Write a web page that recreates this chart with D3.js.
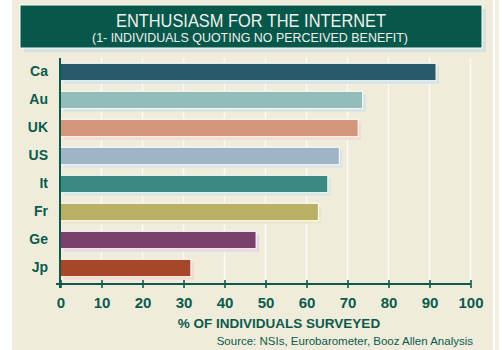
<!DOCTYPE html>
<html><head><meta charset="utf-8">
<script src="https://cdn.jsdelivr.net/npm/d3@7"></script>
<style>
html,body{margin:0;padding:0;background:#fff;}
svg{display:block;}
</style></head>
<body>
<script>
const categories = ["Ca","Au","UK","US","It","Fr","Ge","Jp"];
const values = [91.6, 73.7, 72.6, 68.0, 65.2, 62.9, 47.7, 31.8];
const colors = ["#285a69","#94bdb9","#d3957c","#9db5c5","#3a8a81","#bab063","#7a406e","#a6472a"];
const shadows = ["#d5e3e6","#d5e5e4","#f3dccf","#d8e4ea","#d5e6e4","#ebe8c9","#e5d6e2","#f3d9cf"];
const xTicks = [0,10,20,30,40,50,60,70,80,90,100];
const titleText = "ENTHUSIASM FOR THE INTERNET";
const subtitleText = "(1- INDIVIDUALS QUOTING NO PERCEIVED BENEFIT)";
const xTitle = "% OF INDIVIDUALS SURVEYED";
const sourceText = "Source: NSIs, Eurobarometer, Booz Allen Analysis";

const W = 502, H = 350;
const green = "#0b5a4c";
const svg = d3.select("body").append("svg").attr("width", W).attr("height", H);

// panel
svg.append("rect").attr("x",0).attr("y",0).attr("width",W).attr("height",H).attr("fill","#fff");
svg.append("rect").attr("x",12).attr("y",0).attr("width",481).attr("height",H).attr("fill","#f0ecdb");
svg.append("rect").attr("x",495).attr("y",0).attr("width",4).attr("height",H).attr("fill","#f2efe2");

// title box
svg.append("rect").attr("x",24).attr("y",9).attr("width",462).attr("height",43).attr("fill","#d3e2e1");
svg.append("rect").attr("x",20).attr("y",5).attr("width",462).attr("height",43).attr("fill","#07574a").attr("stroke","#ffffff").attr("stroke-width",1);
svg.append("text").attr("x",251).attr("y",27).attr("text-anchor","middle")
  .attr("font-family","'Liberation Sans Narrow','Arial Narrow','Liberation Sans',sans-serif")
  .attr("font-size",19).attr("fill","#eef2ee").attr("textLength",270).attr("lengthAdjust","spacingAndGlyphs").text(titleText);
svg.append("text").attr("x",250).attr("y",42).attr("text-anchor","middle")
  .attr("font-family","'Liberation Sans Narrow','Arial Narrow','Liberation Sans',sans-serif")
  .attr("font-size",12.5).attr("fill","#eef2ee").attr("textLength",316).attr("lengthAdjust","spacingAndGlyphs").text(subtitleText);

const x = d3.scaleLinear().domain([0,100]).range([60.5,470.5]);
const y = d3.scaleBand().domain(categories).range([58,282]).paddingInner(0.38).paddingOuter(0.19);

// gridlines
svg.append("g").selectAll("line").data(xTicks.slice(1)).join("line")
  .attr("x1",d=>x(d)).attr("x2",d=>x(d)).attr("y1",58).attr("y2",284)
  .attr("stroke","#fbfaf4").attr("stroke-width",1.6);

// bars
const bars = svg.append("g");
categories.forEach((c,i)=>{
  bars.append("rect").attr("x",x(0)+3).attr("y",y(c)+3).attr("width",x(values[i])-x(0)).attr("height",y.bandwidth())
    .attr("fill",shadows[i]);
});
categories.forEach((c,i)=>{
  bars.append("rect").attr("x",x(0)).attr("y",y(c)).attr("width",x(values[i])-x(0)).attr("height",y.bandwidth())
    .attr("fill",colors[i]).attr("stroke","#ffffff").attr("stroke-width",1);
});

// y axis
const yAxis = svg.append("g").attr("transform","translate(60,0)")
  .call(d3.axisLeft(y).tickSize(0).tickPadding(12));
yAxis.select(".domain").remove();
yAxis.selectAll("text").attr("font-family","'Liberation Sans',Arial,sans-serif").attr("font-weight","bold")
  .attr("font-size",14).attr("fill",green);
svg.append("line").attr("x1",60).attr("x2",60).attr("y1",58).attr("y2",288).attr("stroke",green).attr("stroke-width",2);

// x axis
const xAxis = svg.append("g").attr("transform","translate(0,284)")
  .call(d3.axisBottom(x).tickValues(xTicks).tickSize(4).tickPadding(9).tickSizeOuter(0));
xAxis.select(".domain").remove();
xAxis.selectAll(".tick line").attr("y1",-4).attr("y2",4).attr("stroke",green).attr("stroke-width",1.6);
xAxis.selectAll("text").attr("font-family","'Liberation Sans',Arial,sans-serif").attr("font-weight","bold")
  .attr("font-size",15).attr("fill",green);
svg.append("line").attr("x1",56).attr("x2",x(100)).attr("y1",284).attr("y2",284).attr("stroke",green).attr("stroke-width",2);

svg.append("text").attr("x",279).attr("y",328).attr("text-anchor","middle")
  .attr("font-family","'Liberation Sans',Arial,sans-serif").attr("font-weight","bold").attr("font-size",13.5)
  .attr("fill",green).text(xTitle);
svg.append("text").attr("x",473).attr("y",345).attr("text-anchor","end")
  .attr("font-family","'Liberation Sans',Arial,sans-serif").attr("font-size",11.5)
  .attr("fill",green).text(sourceText);
</script>
</body></html>
